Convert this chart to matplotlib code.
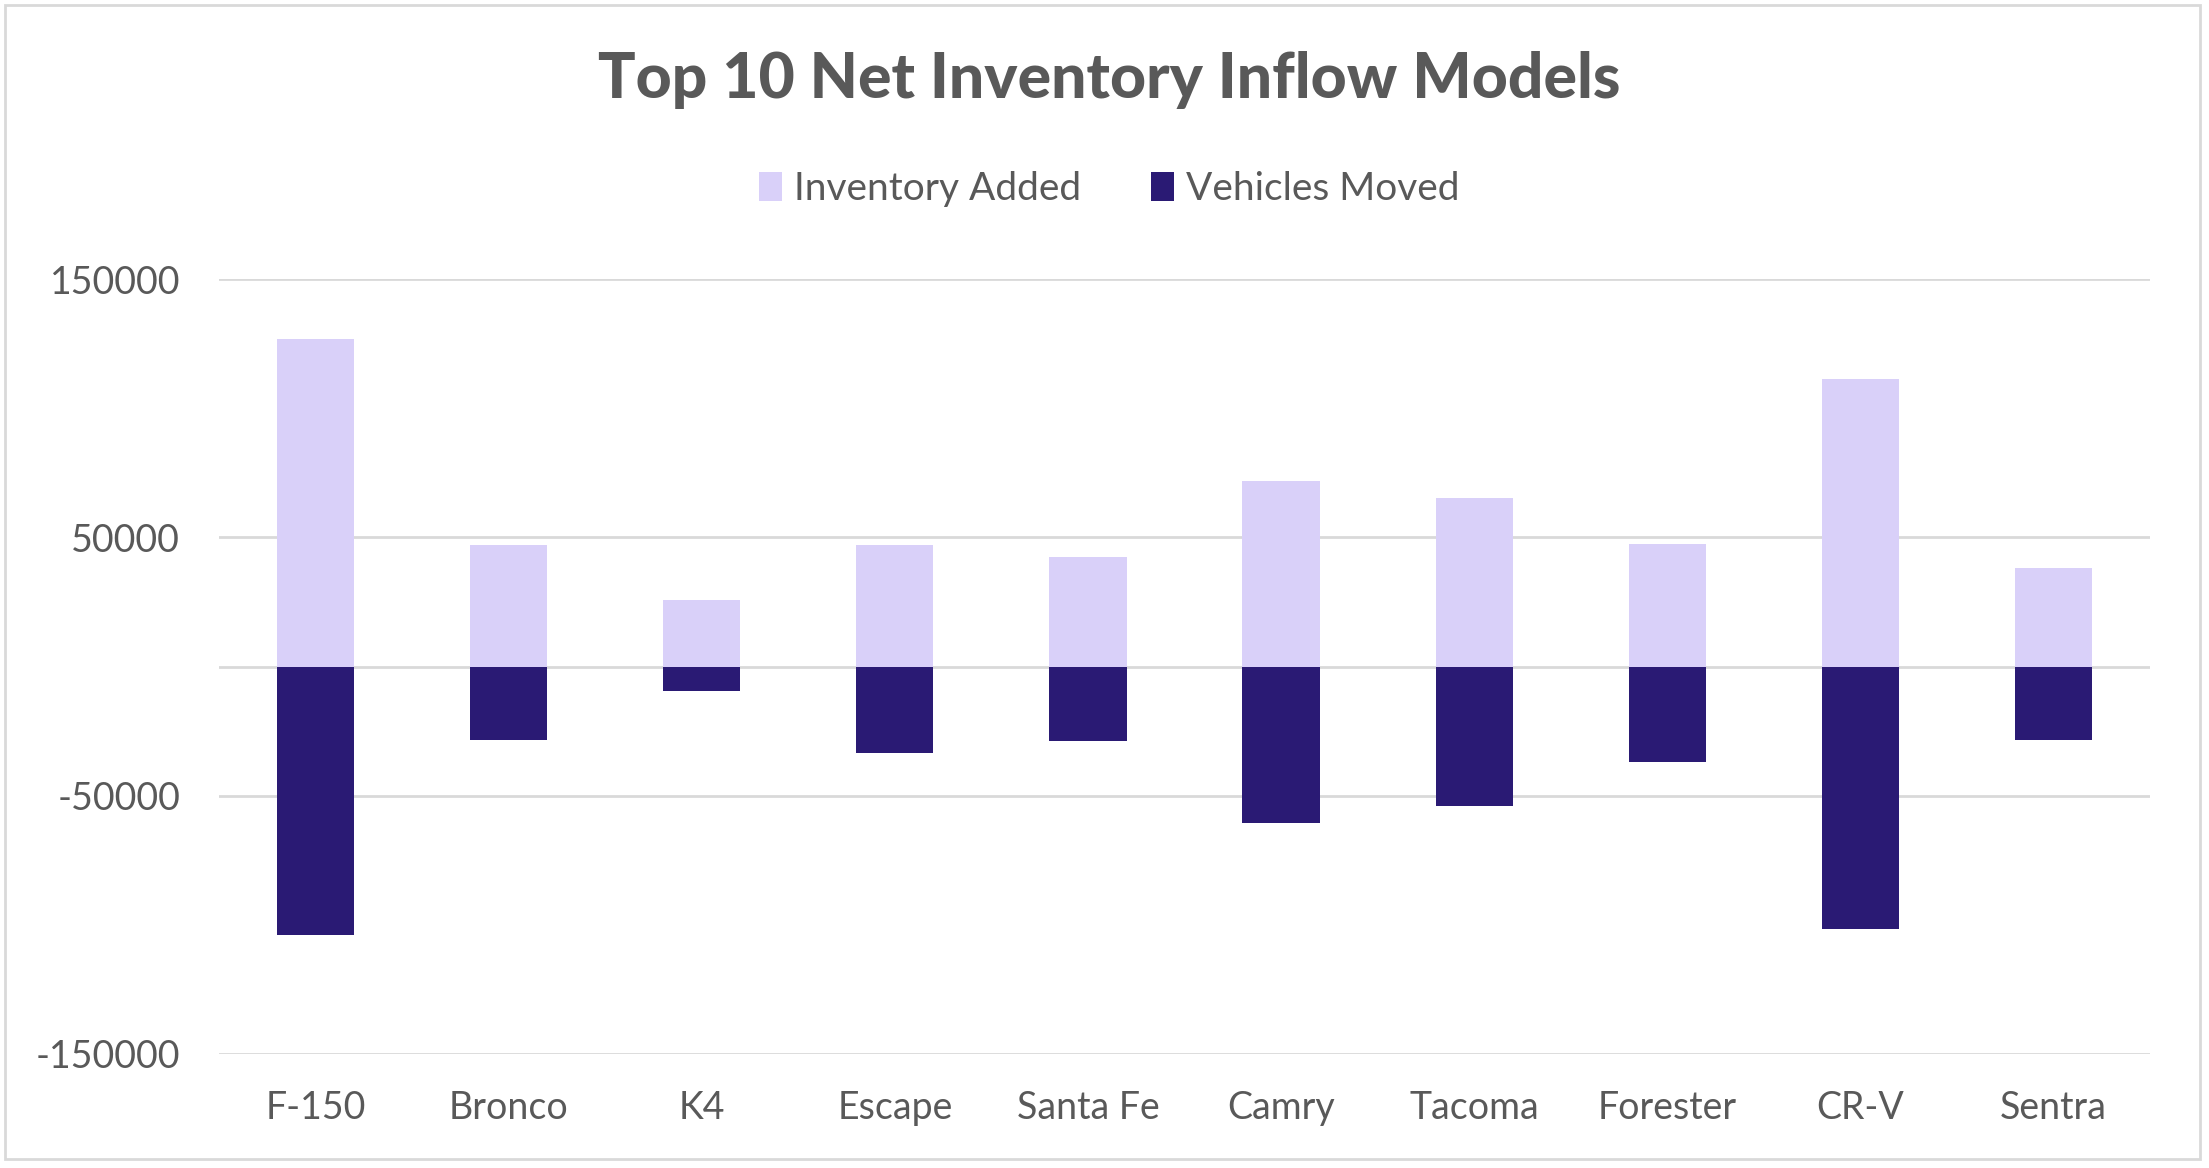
import numpy as np
import matplotlib.pyplot as plt
from matplotlib.patches import Rectangle

# Data
models = ["F-150", "Bronco", "K4", "Escape", "Santa Fe",
          "Camry", "Tacoma", "Forester", "CR-V", "Sentra"]
inventory_added = [126600, 46900, 25700, 47100, 42300, 71900, 65100, 47500, 111400, 38000]
vehicles_moved = [-103800, -28300, -9300, -33400, -28800, -60400, -54100, -37000, -101800, -28500]
y_ticks = [150000, 50000, -50000, -150000]

LIGHT = "#D9D0F9"
DARK = "#2A1A74"
GRID = "#D9D9D9"
TEXT = "#595959"

plt.rcParams['font.family'] = ['Lato', 'DejaVu Sans']

fig = plt.figure(figsize=(22.09, 11.68), dpi=100)
ax = fig.add_axes([219/2209, 1 - 1054/1168, (2150-219)/2209, (1054-279)/1168])

x = np.arange(len(models))
ax.bar(x, inventory_added, width=0.4, color=LIGHT, label="Inventory Added", zorder=3)
ax.bar(x, vehicles_moved, width=0.4, color=DARK, label="Vehicles Moved", zorder=3)

ax.set_xlim(-0.5, len(models) - 0.5)
ax.set_ylim(-150000, 150000)
ax.set_yticks(y_ticks)
ax.set_yticklabels([str(v) for v in y_ticks])
ax.set_xticks(x)
ax.set_xticklabels(models)
ax.tick_params(axis='both', length=0, labelsize=27, labelcolor=TEXT)
ax.tick_params(axis='y', pad=28)
ax.tick_params(axis='x', pad=26)
ax.grid(axis='y', color=GRID, linewidth=2, zorder=0)
ax.axhline(0, color=GRID, linewidth=2, zorder=2)
for s in ax.spines.values():
    s.set_visible(False)

fig.text(0.502, 1 - 80/1168, "Top 10 Net Inventory Inflow Models", ha='center', va='center',
         fontsize=45, fontweight=900, color=TEXT)

fig.legend(loc='center', bbox_to_anchor=(0.502, 1 - 189/1168), ncol=2, frameon=False,
           fontsize=28, labelcolor=TEXT, handlelength=0.6, handleheight=0.8,
           handletextpad=0.3, columnspacing=1.8)

# light outer frame
fig.patches.append(Rectangle((5/2209, 9/1168), 2195/2209, 1154/1168, transform=fig.transFigure,
                             fill=False, edgecolor=GRID, linewidth=2))

fig.savefig("out.png", dpi=100)
